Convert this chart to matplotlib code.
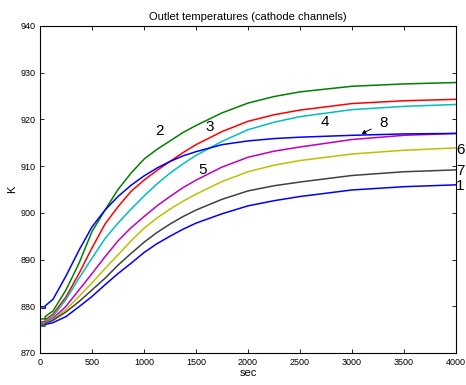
import numpy as np
import matplotlib
matplotlib.use("Agg")
import matplotlib.pyplot as plt

plt.rcParams['font.family'] = ['Liberation Sans', 'DejaVu Sans']

# sample times (sec), step at t=50 is drawn as a repeated time
t = [0, 50, 50, 125, 250, 375, 500, 625, 750, 875, 1000, 1125, 1250, 1375, 1500, 1750, 2000, 2250, 2500, 3000, 3500, 4000]

ch1 = [875.8, 875.8, 876.1, 876.5, 877.8, 879.9, 882.1, 884.6, 887.0, 889.2, 891.5, 893.4, 895.0, 896.5, 897.8, 899.8, 901.5, 902.6, 903.5, 904.9, 905.6, 906.0]
ch2 = [877.3, 877.3, 877.8, 879.0, 883.5, 889.2, 896.0, 900.6, 905.0, 908.5, 911.5, 913.6, 915.4, 917.2, 918.7, 921.4, 923.5, 924.9, 925.9, 927.1, 927.6, 927.9]
ch3 = [876.7, 876.7, 877.1, 878.3, 882.0, 887.0, 892.5, 897.6, 901.3, 904.6, 907.0, 909.1, 911.0, 912.9, 914.6, 917.4, 919.6, 921.0, 922.0, 923.4, 924.0, 924.3]
ch4 = [876.5, 876.5, 876.9, 877.8, 881.5, 886.0, 890.3, 894.5, 897.8, 900.8, 903.6, 906.2, 908.5, 910.5, 912.3, 915.3, 917.8, 919.4, 920.6, 922.1, 922.8, 923.2]
ch5 = [876.2, 876.2, 876.6, 877.4, 880.0, 883.5, 887.0, 890.6, 894.0, 896.8, 899.2, 901.5, 903.5, 905.4, 907.0, 909.8, 911.9, 913.2, 914.1, 915.7, 916.6, 917.0]
ch6 = [876.0, 876.0, 876.4, 877.2, 879.3, 882.1, 885.0, 888.1, 891.0, 894.0, 896.7, 898.9, 900.8, 902.5, 904.0, 906.7, 908.8, 910.2, 911.2, 912.6, 913.4, 913.9]
ch7 = [876.0, 876.0, 876.3, 877.0, 878.8, 881.0, 883.5, 886.0, 888.8, 891.3, 893.7, 895.8, 897.6, 899.2, 900.6, 902.9, 904.7, 905.8, 906.6, 908.0, 908.8, 909.2]
ch8 = [879.6, 879.6, 880.1, 881.5, 886.5, 892.0, 897.0, 900.6, 903.5, 905.9, 907.9, 909.6, 911.0, 912.2, 913.1, 914.6, 915.4, 915.9, 916.2, 916.6, 916.9, 917.0]

channels = [ch1, ch2, ch3, ch4, ch5, ch6, ch7, ch8]
colors = ['#0000ff', '#008000', '#ff0000', '#00bfbf', '#bf00bf', '#bfbf00', '#404040', '#0000ff']

fig = plt.figure(figsize=(4.66, 3.85), dpi=100)
ax = fig.add_axes([40/466, 1 - 353/385, 416/466, 327/385])

for ch, c in zip(channels, colors):
    ax.plot(t, ch, color=c, lw=1.1)

ax.set_xlim(0, 4000)
ax.set_ylim(870, 940)
ax.set_xticks(np.arange(0, 4001, 500))
ax.set_yticks(np.arange(870, 941, 10))
ax.tick_params(direction='in', top=True, right=True, labelsize=6.5, length=3, width=0.6)
for s in ax.spines.values():
    s.set_linewidth(0.8)

ax.set_title('Outlet temperatures (cathode channels)', fontsize=8, pad=4)
ax.set_xlabel('sec', fontsize=8, labelpad=1)
ax.set_ylabel('K', fontsize=8, labelpad=2)

# curve numbers
fs = 11
ax.text(1150, 917.5, '2', fontsize=fs, ha='center', va='center')
ax.text(1635, 918.4, '3', fontsize=fs, ha='center', va='center')
ax.text(2740, 919.4, '4', fontsize=fs, ha='center', va='center')
ax.text(1560, 909.2, '5', fontsize=fs, ha='center', va='center')
ax.annotate('8', xy=(3090, 916.9), xytext=(3300, 919.2), fontsize=fs,
            ha='center', va='center',
            arrowprops=dict(arrowstyle='-|>', lw=0.7, color='black',
                            mutation_scale=6, shrinkA=4, shrinkB=0))
ax.text(4000, 913.5, '6', fontsize=fs, ha='left', va='center', clip_on=False)
ax.text(4000, 909.0, '7', fontsize=fs, ha='left', va='center', clip_on=False)
ax.text(4000, 905.7, '1', fontsize=fs, ha='left', va='center', clip_on=False)

fig.savefig('out.png', dpi=100)
